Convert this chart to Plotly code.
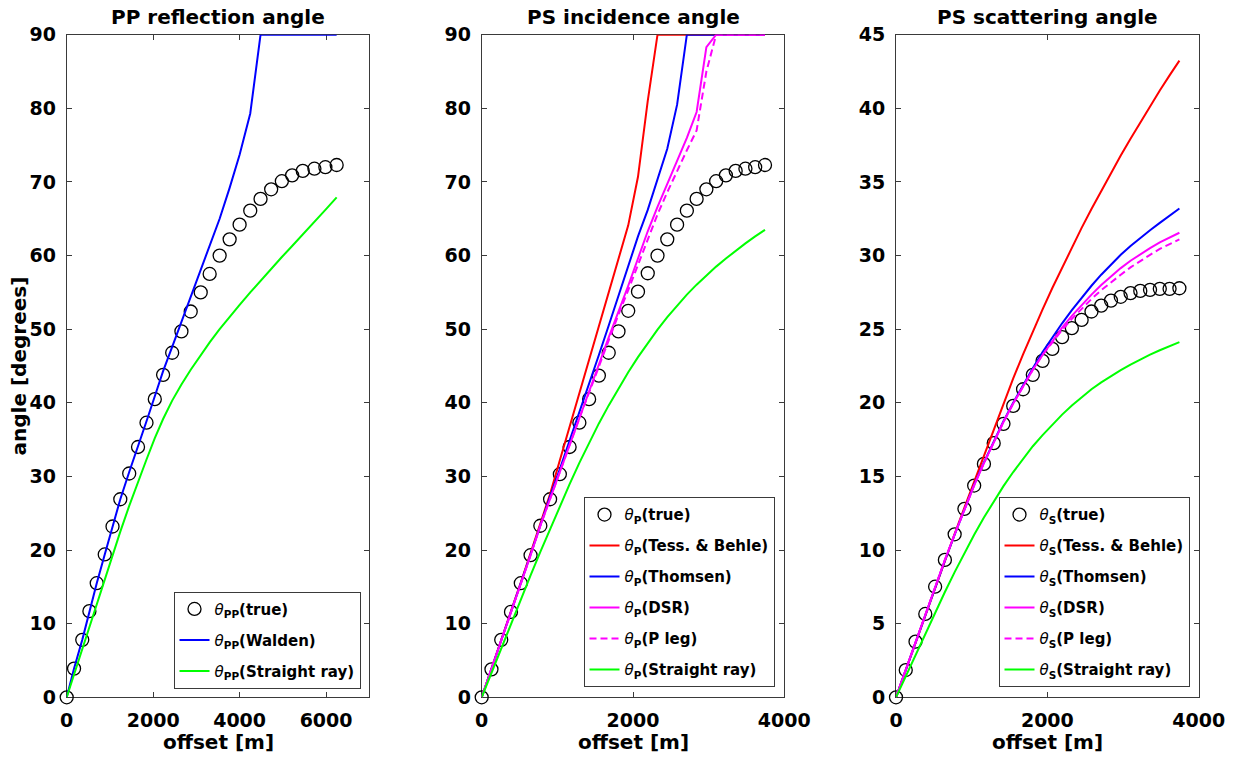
import plotly.graph_objects as go

# ---------------- PP reflection angle ----------------
pp_offset = [0, 170, 360, 525, 695, 880, 1060, 1240, 1446, 1650, 1846, 2038, 2230, 2440, 2654,
             2869, 3100, 3307, 3538, 3769, 4000, 4246, 4484, 4730, 4977, 5215, 5461, 5730, 5984, 6245]
pp_true = [0, 3.9, 7.8, 11.7, 15.5, 19.4, 23.2, 26.9, 30.4, 34.0, 37.3, 40.5, 43.8, 46.8, 49.7,
           52.4, 55.0, 57.5, 60.0, 62.2, 64.2, 66.1, 67.7, 69.0, 70.1, 70.9, 71.5, 71.8, 72.0, 72.3]
pp_walden = [0, 3.9, 7.8, 11.7, 15.5, 19.4, 23.2, 26.9, 30.6, 34.0, 37.5, 40.9, 44.3, 47.6, 51.0,
             54.4, 58.1, 61.3, 65.0, 69.2, 73.7, 79.3, 90, 90, 90, 90, 90, 90, 90, 90]
pp_straight = [0, 3.1, 6.6, 9.6, 12.7, 16.1, 19.3, 22.5, 26.0, 29.3, 32.3, 35.2, 37.8, 40.3, 42.5,
               44.5, 46.5, 48.2, 50.0, 51.7, 53.3, 55.0, 56.6, 58.2, 59.8, 61.3, 62.85, 64.5, 66.2, 67.9]

# ---------------- PS incidence / scattering angles ----------------
ps_offset = [0, 129, 258, 387, 517, 646, 775, 904, 1033, 1162, 1291, 1420, 1549, 1679, 1808,
             1937, 2066, 2195, 2324, 2453, 2583, 2712, 2841, 2970, 3099, 3228, 3357, 3486, 3615, 3745]

psp_true = [0, 3.8, 7.8, 11.6, 15.5, 19.3, 23.3, 26.9, 30.3, 34.0, 37.3, 40.5, 43.7, 46.8, 49.7,
            52.5, 55.1, 57.6, 60.0, 62.2, 64.2, 66.1, 67.7, 69.0, 70.1, 70.9, 71.5, 71.8, 72.0, 72.3]
psp_tessmer = [0, 3.8, 7.8, 11.7, 15.6, 19.5, 23.5, 27.6, 32.2, 36.8, 41.4, 46.0, 50.5, 55.0, 59.5,
               64.1, 70.7, 81.0, 90, 90, 90, 90, 90, 90, 90, 90, 90, 90, 90, 90]
psp_thomsen = [0, 3.8, 7.8, 11.6, 15.5, 19.4, 23.4, 27.3, 31.0, 34.8, 38.7, 42.6, 46.5, 50.5, 54.5,
               58.7, 62.6, 66.2, 70.2, 74.5, 80.5, 90, 90, 90, 90, 90, 90, 90, 90, 90]
psp_dsr = [0, 3.8, 7.8, 11.6, 15.5, 19.3, 23.3, 27.0, 30.6, 34.4, 38.0, 41.6, 45.2, 48.9, 52.3,
           55.9, 59.6, 63.3, 66.6, 69.8, 72.9, 76.0, 79.5, 88.3, 90, 90, 90, 90, 90, 90]
psp_pleg = [0, 3.8, 7.8, 11.6, 15.5, 19.3, 23.3, 27.0, 30.6, 34.3, 37.9, 41.4, 45.0, 48.6, 52.0,
            55.3, 58.8, 62.2, 65.6, 68.6, 71.5, 74.3, 77.0, 85.0, 90, 90, 90, 90, 90, 90]
psp_straight = [0, 3.35, 6.7, 10.0, 13.3, 16.55, 19.75, 22.9, 25.95, 28.95, 31.85, 34.6, 37.2, 39.65, 41.95,
                44.15, 46.2, 48.15, 49.95, 51.65, 53.25, 54.7, 56.05, 57.3, 58.5, 59.6, 60.65, 61.65, 62.6, 63.5]

pss_true = [0, 1.85, 3.78, 5.66, 7.51, 9.33, 11.07, 12.8, 14.38, 15.85, 17.26, 18.57, 19.79, 20.92, 21.9,
            22.85, 23.66, 24.46, 25.07, 25.63, 26.2, 26.6, 26.94, 27.2, 27.45, 27.6, 27.67, 27.74, 27.74, 27.78]
pss_tessmer = [0, 1.85, 3.75, 5.63, 7.48, 9.30, 11.10, 12.88, 14.66, 16.44, 18.21, 19.96, 21.66, 23.29, 24.85,
               26.35, 27.80, 29.20, 30.56, 31.88, 33.16, 34.40, 35.61, 36.79, 37.94, 39.06, 40.15, 41.21, 42.24, 43.24]
pss_thomsen = [0, 1.85, 3.75, 5.63, 7.48, 9.28, 11.04, 12.76, 14.45, 15.95, 17.4, 18.75, 20.0, 21.2, 22.35,
               23.45, 24.45, 25.4, 26.3, 27.15, 27.95, 28.7, 29.4, 30.05, 30.65, 31.2, 31.72, 32.22, 32.72, 33.2]
pss_dsr = [0, 1.85, 3.78, 5.66, 7.51, 9.33, 11.07, 12.8, 14.4, 15.9, 17.35, 18.7, 19.95, 21.15, 22.25,
           23.25, 24.2, 25.1, 25.9, 26.65, 27.35, 28.0, 28.6, 29.15, 29.65, 30.1, 30.5, 30.9, 31.25, 31.55]
pss_pleg = [0, 1.85, 3.78, 5.66, 7.51, 9.33, 11.07, 12.8, 14.4, 15.9, 17.35, 18.7, 19.95, 21.15, 22.25,
            23.25, 24.1, 24.95, 25.7, 26.4, 27.05, 27.65, 28.2, 28.7, 29.2, 29.65, 30.05, 30.45, 30.8, 31.1]
pss_straight = [0, 1.45, 2.9, 4.34, 5.76, 7.15, 8.5, 9.8, 11.04, 12.21, 13.31, 14.34, 15.3, 16.2, 17.05,
                17.81, 18.53, 19.2, 19.82, 20.4, 20.92, 21.39, 21.82, 22.22, 22.6, 22.95, 23.27, 23.57, 23.85, 24.12]

titles = ["PP reflection angle", "PS incidence angle", "PS scattering angle"]

# ---------------- styling ----------------
W, H = 1234, 757
FONT = "DejaVu Sans"
AX_COLOR = "#3a3a3a"
RED, BLUE, MAGENTA, GREEN = "#ff0000", "#0000ff", "#ff00ff", "#00ff00"

x_dom_px = [(66.7, 369.3), (481.7, 784.3), (896.0, 1198.7)]
y_dom_px = (34.7, 697.3)

fig = go.Figure()


def add_true(x, y, name, idx):
    sfx = "" if idx == 1 else str(idx)
    fig.add_trace(go.Scatter(
        x=x, y=y, mode="markers", name=name,
        marker=dict(symbol="circle-open", size=13, color="black", line=dict(width=1.3, color="black")),
        xaxis="x" + sfx, yaxis="y" + sfx, legend="legend" + sfx,
        legendgroup=f"p{idx}-{name}", cliponaxis=False, showlegend=True))


def add_line(x, y, name, color, idx, dash="solid"):
    sfx = "" if idx == 1 else str(idx)
    fig.add_trace(go.Scatter(
        x=x, y=y, mode="lines", name=name,
        line=dict(color=color, width=2, dash=dash),
        xaxis="x" + sfx, yaxis="y" + sfx, legend="legend" + sfx,
        legendgroup=f"p{idx}-{name}", cliponaxis=False, showlegend=True))


TH = '<span style="font-weight:normal"><i>θ</i></span>'
DASH = "7px,4px"

# panel 1
add_true(pp_offset, pp_true, TH + "<sub>PP</sub>(true)", 1)
add_line(pp_offset, pp_walden, TH + "<sub>PP</sub>(Walden)", BLUE, 1)
add_line(pp_offset, pp_straight, TH + "<sub>PP</sub>(Straight ray)", GREEN, 1)

# panel 2
add_true(ps_offset, psp_true, TH + "<sub>P</sub>(true)", 2)
add_line(ps_offset, psp_tessmer, TH + "<sub>P</sub>(Tess. &amp; Behle)", RED, 2)
add_line(ps_offset, psp_thomsen, TH + "<sub>P</sub>(Thomsen)", BLUE, 2)
add_line(ps_offset, psp_dsr, TH + "<sub>P</sub>(DSR)", MAGENTA, 2)
add_line(ps_offset, psp_pleg, TH + "<sub>P</sub>(P leg)", MAGENTA, 2, dash=DASH)
add_line(ps_offset, psp_straight, TH + "<sub>P</sub>(Straight ray)", GREEN, 2)

# panel 3
add_true(ps_offset, pss_true, TH + "<sub>S</sub>(true)", 3)
add_line(ps_offset, pss_tessmer, TH + "<sub>S</sub>(Tess. &amp; Behle)", RED, 3)
add_line(ps_offset, pss_thomsen, TH + "<sub>S</sub>(Thomsen)", BLUE, 3)
add_line(ps_offset, pss_dsr, TH + "<sub>S</sub>(DSR)", MAGENTA, 3)
add_line(ps_offset, pss_pleg, TH + "<sub>S</sub>(P leg)", MAGENTA, 3, dash=DASH)
add_line(ps_offset, pss_straight, TH + "<sub>S</sub>(Straight ray)", GREEN, 3)

tick_font = dict(family=FONT, size=19, color="black", weight="bold")
axis_common = dict(
    showline=True, linecolor=AX_COLOR, linewidth=1, mirror="ticks",
    ticks="inside", ticklen=5, tickwidth=1, tickcolor=AX_COLOR,
    showgrid=False, zeroline=False, tickfont=tick_font, automargin=False,
    layer="below traces", fixedrange=True, ticklabelstandoff=6,
)

y_dom = [1 - y_dom_px[1] / H, 1 - y_dom_px[0] / H]
x_ranges = [[0, 7000], [0, 4000], [0, 4000]]
x_ticks = [[0, 2000, 4000, 6000], [0, 2000, 4000], [0, 2000, 4000]]
y_ranges = [[0, 90], [0, 90], [0, 45]]
y_dticks = [10, 10, 5]

layout_axes = {}
for i in range(3):
    sfx = "" if i == 0 else str(i + 1)
    layout_axes["xaxis" + sfx] = dict(
        axis_common, domain=[x_dom_px[i][0] / W, x_dom_px[i][1] / W],
        range=x_ranges[i], tickvals=x_ticks[i], anchor="y" + sfx)
    layout_axes["yaxis" + sfx] = dict(
        axis_common, domain=y_dom, range=y_ranges[i], dtick=y_dticks[i],
        tick0=0, anchor="x" + sfx)

legend_common = dict(
    xanchor="left", yanchor="top", bgcolor="white",
    bordercolor=AX_COLOR, borderwidth=1,
    font=dict(family=FONT, size=15, color="black", weight="bold"),
    tracegroupgap=8.5, itemwidth=30,
)
legend_pos_px = [(173.5, 591.7), (583.5, 497.3), (998.5, 497.3)]
legends = {}
for i, (lx, ly) in enumerate(legend_pos_px):
    key = "legend" if i == 0 else f"legend{i + 1}"
    legends[key] = dict(legend_common, x=lx / W, y=1 - ly / H)

annotations = []
for i, t in enumerate(titles):
    cx = (x_dom_px[i][0] + x_dom_px[i][1]) / 2 / W
    annotations.append(dict(
        text=t, x=cx, y=1 - 17.5 / H, xref="paper", yref="paper",
        xanchor="center", yanchor="middle", showarrow=False,
        font=dict(family=FONT, size=20, color="black", weight="bold")))
    annotations.append(dict(
        text="offset [m]", x=cx, y=1 - 742 / H, xref="paper", yref="paper",
        xanchor="center", yanchor="middle", showarrow=False,
        font=dict(family=FONT, size=20, color="black", weight="bold")))
annotations.append(dict(
    text="angle [degrees]", x=18.5 / W, y=1 - 366 / H, xref="paper", yref="paper",
    xanchor="center", yanchor="middle", textangle=-90, showarrow=False,
    font=dict(family=FONT, size=20, color="black", weight="bold")))

fig.update_layout(
    width=W, height=H,
    margin=dict(l=0, r=0, t=0, b=0, pad=0, autoexpand=False),
    paper_bgcolor="white", plot_bgcolor="white",
    annotations=annotations, **layout_axes, **legends,
)

fig.write_html("out.html")
